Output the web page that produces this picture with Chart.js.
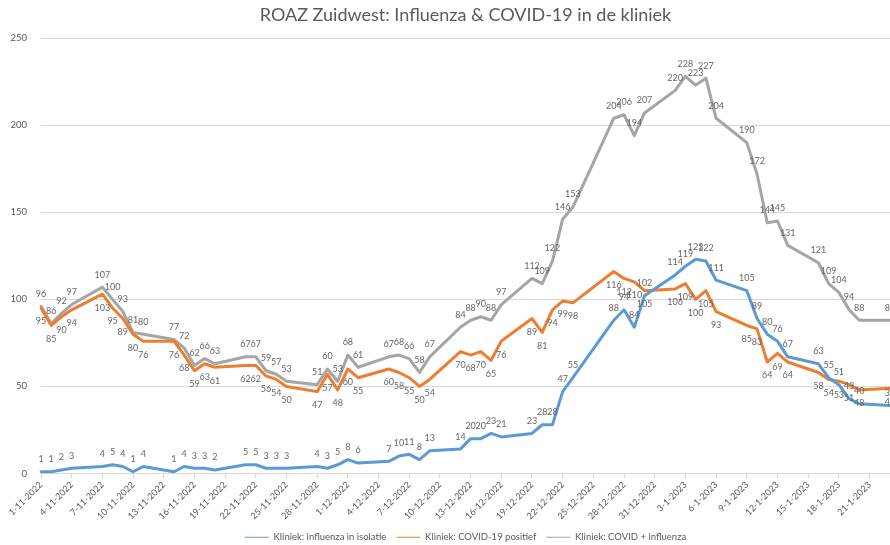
<!DOCTYPE html>
<html>
<head>
<meta charset="utf-8">
<script src="https://cdn.jsdelivr.net/npm/chart.js@4.4.1/dist/chart.umd.min.js"></script>
<style>
  html, body { margin: 0; padding: 0; background: #fff; }
</style>
</head>
<body>
<canvas id="chart" width="890" height="545"></canvas>
<script>
// Measurement days (weekdays only, 26-12 missing)
const dates = [
  "1-11-2022", "2-11-2022", "3-11-2022", "4-11-2022",
  "7-11-2022", "8-11-2022", "9-11-2022", "10-11-2022", "11-11-2022",
  "14-11-2022", "15-11-2022", "16-11-2022", "17-11-2022", "18-11-2022",
  "21-11-2022", "22-11-2022", "23-11-2022", "24-11-2022", "25-11-2022",
  "28-11-2022", "29-11-2022", "30-11-2022", "1-12-2022", "2-12-2022",
  "5-12-2022", "6-12-2022", "7-12-2022", "8-12-2022", "9-12-2022",
  "12-12-2022", "13-12-2022", "14-12-2022", "15-12-2022", "16-12-2022",
  "19-12-2022", "20-12-2022", "21-12-2022", "22-12-2022", "23-12-2022",
  "27-12-2022", "28-12-2022", "29-12-2022", "30-12-2022",
  "2-1-2023", "3-1-2023", "4-1-2023", "5-1-2023", "6-1-2023",
  "9-1-2023", "10-1-2023", "11-1-2023", "12-1-2023", "13-1-2023",
  "16-1-2023", "17-1-2023", "18-1-2023", "19-1-2023", "20-1-2023",
  "23-1-2023"
];

const influenza = [
  1, 1, 2, 3,
  4, 5, 4, 1, 4,
  1, 4, 3, 3, 2,
  5, 5, 3, 3, 3,
  4, 3, 5, 8, 6,
  7, 10, 11, 8, 13,
  14, 20, 20, 23, 21,
  23, 28, 28, 47, 55,
  88, 94, 84, 102,
  114, 119, 123, 122, 111,
  105, 89, 80, 76, 67,
  63, 55, 51, 43, 40,
  39
];

const covid = [
  95, 85, 90, 94,
  103, 95, 89, 80, 76,
  76, 68, 59, 63, 61,
  62, 62, 56, 54, 50,
  47, 57, 48, 60, 55,
  60, 58, 55, 50, 54,
  70, 68, 70, 65, 76,
  89, 81, 94, 99, 98,
  116, 112, 110, 105,
  106, 109, 100, 105, 93,
  85, 83, 64, 69, 64,
  58, 54, 53, 51, 48,
  49
];

const combined = [
  96, 86, 92, 97,
  107, 100, 93, 81, 80,
  77, 72, 62, 66, 63,
  67, 67, 59, 57, 53,
  51, 60, 53, 68, 61,
  67, 68, 66, 58, 67,
  84, 88, 90, 88, 97,
  112, 109, 122, 146, 153,
  204, 206, 194, 207,
  220, 228, 223, 227, 204,
  190, 172, 144, 145, 131,
  121, 109, 104, 94, 88,
  88
];

const tickLabels = [
  "1-11-2022", "4-11-2022", "7-11-2022", "10-11-2022", "13-11-2022",
  "16-11-2022", "19-11-2022", "22-11-2022", "25-11-2022", "28-11-2022",
  "1-12-2022", "4-12-2022", "7-12-2022", "10-12-2022", "13-12-2022",
  "16-12-2022", "19-12-2022", "22-12-2022", "25-12-2022", "28-12-2022",
  "31-12-2022", "3-1-2023", "6-1-2023", "9-1-2023", "12-1-2023",
  "15-1-2023", "18-1-2023", "21-1-2023"
];

// every calendar day on the date axis, 1-11-2022 .. 23-1-2023
const days = [];
for (let d = new Date(2022, 10, 1); d <= new Date(2023, 0, 23); d.setDate(d.getDate() + 1)) {
  days.push(d.getDate() + "-" + (d.getMonth() + 1) + "-" + d.getFullYear());
}

const toPoints = vals => dates.map((d, i) => ({ x: d, y: vals[i] }));

const TEXT = "#595959";
const GRID = "#d9d9d9";

// value labels above / below each point
const pointLabels = {
  id: "pointLabels",
  afterDatasetsDraw(chart) {
    const ctx = chart.ctx;
    ctx.save();
    ctx.font = "9px Lato";
    ctx.fillStyle = "#666666";
    ctx.textAlign = "center";
    ctx.textBaseline = "middle";
    chart.data.datasets.forEach((ds, i) => {
      const meta = chart.getDatasetMeta(i);
      meta.data.forEach((pt, j) => {
        const off = ds.labelBelow ? 13.5 : -12.5;
        ctx.fillText(String(ds.data[j].y), pt.x, pt.y + off);
      });
    });
    ctx.restore();
  }
};

new Chart(document.getElementById("chart"), {
  type: "line",
  data: {
    labels: days,
    datasets: [
      {
        label: "Kliniek: influenza in isolatie",
        data: toPoints(influenza),
        borderColor: "#5b9bd5",
        backgroundColor: "#5b9bd5",
        labelBelow: false
      },
      {
        label: "Kliniek: COVID-19 positief",
        data: toPoints(covid),
        borderColor: "#ed7d31",
        backgroundColor: "#ed7d31",
        labelBelow: true
      },
      {
        label: "Kliniek: COVID + influenza",
        data: toPoints(combined),
        borderColor: "#a5a5a5",
        backgroundColor: "#a5a5a5",
        labelBelow: false
      }
    ]
  },
  options: {
    responsive: false,
    animation: false,
    devicePixelRatio: 1,
    layout: { padding: { left: 0, right: 0, top: 0, bottom: -7 } },
    elements: {
      line: { borderWidth: 3, tension: 0, borderCapStyle: "round", borderJoinStyle: "round" },
      point: { radius: 0, hoverRadius: 0 }
    },
    plugins: {
      title: {
        display: true,
        text: "ROAZ Zuidwest: Influenza & COVID-19 in de kliniek",
        color: TEXT,
        font: { family: "Lato", size: 18, weight: "normal" },
        padding: { top: 4, bottom: 12.5 },
        fullSize: false
      },
      legend: {
        position: "bottom",
        fullSize: false,
        labels: {
          usePointStyle: true,
          pointStyle: "line",
          pointStyleWidth: 24,
          color: TEXT,
          font: { family: "Lato", size: 9.5 },
          padding: 10
        }
      },
      tooltip: { enabled: false }
    },
    scales: {
      x: {
        type: "category",
        offset: false,
        grid: {
          drawOnChartArea: false,
          tickLength: 5,
          color: ctx => tickLabels.includes(days[ctx.index]) ? GRID : "rgba(0,0,0,0)"
        },
        border: { color: GRID },
        ticks: {
          autoSkip: false,
          minRotation: 45,
          maxRotation: 45,
          padding: 1,
          color: TEXT,
          font: { family: "Lato", size: 9 },
          callback: (v, i) => tickLabels.includes(days[i]) ? days[i] : ""
        },
        afterFit: s => { s.height = 49; s.paddingLeft = 0; s.paddingRight = 0; }
      },
      y: {
        min: 0,
        max: 250,
        ticks: { stepSize: 50, color: TEXT, font: { family: "Lato", size: 9.5 }, padding: 14 },
        grid: { color: GRID, drawTicks: false },
        border: { display: false },
        afterFit: s => { s.width = 41; }
      }
    }
  },
  plugins: [pointLabels]
});
</script>
</body>
</html>
